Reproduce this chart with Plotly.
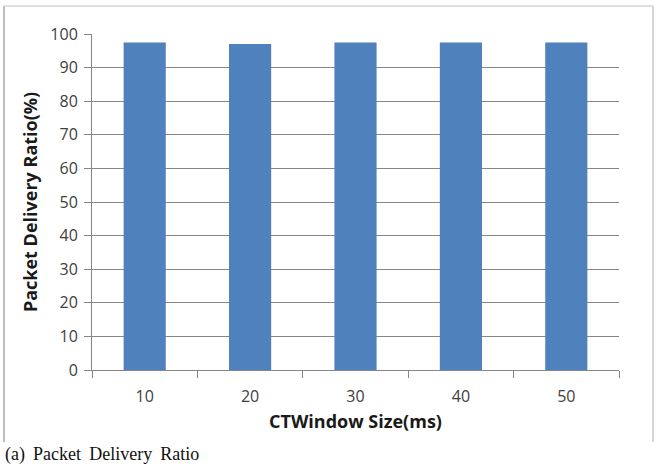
import plotly.graph_objects as go

categories = ["10", "20", "30", "40", "50"]
pdr_values = [97.5, 97.0, 97.5, 97.5, 97.5]
y_ticks = [0, 10, 20, 30, 40, 50, 60, 70, 80, 90, 100]

W, H = 663, 466
L, R, T, B = 92, 619, 34, 370  # plot area in px
pw, ph = R - L, B - T

def px_x(x):
    return (x - L) / pw

def px_y(y):
    return (B - y) / ph

tick_font = dict(family="Open Sans", size=16, color="#404040")
title_font = dict(family="Open Sans", size=18, color="#1a1a1a")

fig = go.Figure()
fig.add_trace(go.Bar(
    x=categories, y=pdr_values,
    marker=dict(color="#4F81BD", line=dict(width=0)),
    width=0.4,
))

border_l, border_r, border_t, border_b = 4, 653, 6, 442
border_shapes = [
    dict(type="line", xref="paper", yref="paper",
         x0=px_x(border_l), x1=px_x(border_l), y0=px_y(border_b), y1=px_y(border_t),
         line=dict(color="#a8a8a8", width=1.5), layer="below"),
    dict(type="line", xref="paper", yref="paper",
         x0=px_x(border_r), x1=px_x(border_r), y0=px_y(border_b), y1=px_y(border_t),
         line=dict(color="#c8c8c8", width=1.5), layer="below"),
    dict(type="line", xref="paper", yref="paper",
         x0=px_x(border_l), x1=px_x(border_r), y0=px_y(border_t), y1=px_y(border_t),
         line=dict(color="#d4d4d4", width=1.5), layer="below"),
]

fig.update_layout(
    width=W, height=H,
    margin=dict(l=L, r=W - R, t=T, b=H - B, autoexpand=False),
    paper_bgcolor="white", plot_bgcolor="white",
    showlegend=False,
    bargap=0.6,
    xaxis=dict(
        type="category",
        tickson="boundaries",
        ticks="outside", ticklen=7, tickcolor="#868686",
        showline=True, linecolor="#868686", linewidth=1,
        showgrid=False,
        tickfont=tick_font,
        ticklabelstandoff=12,
        title=dict(text="<b>CTWindow Size(ms)</b>", font=title_font, standoff=9),
    ),
    yaxis=dict(
        range=[0, 100],
        tickvals=y_ticks,
        ticks="outside", ticklen=7, tickcolor="#868686",
        showline=True, linecolor="#868686", linewidth=1,
        showgrid=True, gridcolor="#868686", gridwidth=1,
        zeroline=False,
        tickfont=tick_font,
        ticklabelstandoff=3,
        title=dict(text="<b>Packet Delivery Ratio(%)</b>", font=title_font, standoff=8),
    ),
    shapes=border_shapes,
    annotations=[dict(
        text="(a)\u00a0\u2009Packet\u00a0\u2009Delivery\u00a0\u2009Ratio",
        xref="paper", yref="paper",
        x=px_x(3), y=px_y(454),
        xanchor="left", yanchor="middle",
        showarrow=False,
        font=dict(family="Liberation Serif", size=18, color="#111111"),
    )],
)

fig.write_html("out.html")
